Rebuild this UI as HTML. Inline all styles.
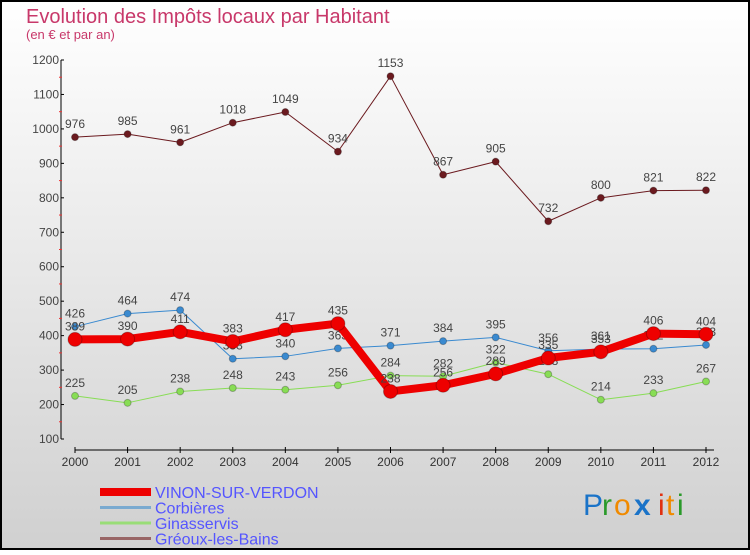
<!DOCTYPE html>
<html><head><meta charset="utf-8"><style>
html,body{margin:0;padding:0;}
body{width:750px;height:550px;overflow:hidden;font-family:"Liberation Sans",sans-serif;}
</style></head><body>
<svg id="chart" width="750" height="550" xmlns="http://www.w3.org/2000/svg">
<defs>
<linearGradient id="bg" x1="0" y1="0" x2="0" y2="1">
<stop offset="0" stop-color="#ffffff"/><stop offset="1" stop-color="#d0d0d0"/>
</linearGradient>
</defs>
<rect x="1" y="1" width="748" height="548" fill="url(#bg)" stroke="#000" stroke-width="2"/>
<text x="26" y="23" font-size="20" fill="#c8386a">Evolution des Impôts locaux par Habitant</text>
<text x="26" y="39" font-size="13" fill="#c8386a">(en € et par an)</text>
<g id="axes"></g>
<g id="series"></g>
<g id="legend"></g>
<g font-size="30" font-family="'Liberation Sans',sans-serif">
<text x="583" y="515" fill="#1a73c8">P</text><text x="602" y="515" fill="#2a9a2a">r</text><text x="614" y="515" fill="#f08a00">o</text><text x="634" y="515" fill="#1a73c8" font-weight="bold">x</text><text x="658" y="515" fill="#e03010">i</text><text x="666" y="515" fill="#f08a00">t</text><text x="677" y="515" fill="#2a9a2a">i</text>
</g>
</svg>
<script>
const years=["2000","2001","2002","2003","2004","2005","2006","2007","2008","2009","2010","2011","2012"];
const yTicks=[100,200,300,400,500,600,700,800,900,1000,1100,1200];
const vinon=[389,390,411,383,417,435,238,256,289,335,353,406,404];
const corbieres=[426,464,474,333,340,363,371,384,395,356,361,362,373];
const ginasservis=[225,205,238,248,243,256,284,282,322,288,214,233,267];
const greoux=[976,985,961,1018,1049,934,1153,867,905,732,800,821,822];
const NS="http://www.w3.org/2000/svg";
const x0=75,x1=706,yTop=60,yBot=439,vMin=100,vMax=1200;
function xs(i){return x0+(x1-x0)*i/(years.length-1);}
function ys(v){return yBot-(v-vMin)*(yBot-yTop)/(vMax-vMin);}
function mk(tag,attrs,parent){const e=document.createElementNS(NS,tag);for(const k in attrs)e.setAttribute(k,attrs[k]);parent.appendChild(e);return e;}
const axes=document.getElementById('axes');
let yl=mk('line',{x1:61,y1:ys(1200),x2:61,y2:ys(100),stroke:'#000','stroke-width':1},axes);


yTicks.forEach((t,i)=>{
  mk('line',{x1:61,y1:ys(t),x2:64,y2:ys(t),stroke:'#000'},axes);
  if(i<yTicks.length-1){mk('line',{x1:59,y1:ys(t+50),x2:62,y2:ys(t+50),stroke:'#e33'},axes);}
  const tx=mk('text',{x:59,y:ys(t)+4,'font-size':12,'text-anchor':'end',fill:'#444'},axes);
  
  
  tx.textContent=t;
});
let xl=mk('line',{x1:x0,y1:450,x2:x1+8,y2:450,stroke:'#000','stroke-width':1},axes);


years.forEach((y,i)=>{
  mk('line',{x1:xs(i),y1:447,x2:xs(i),y2:453,stroke:'#000'},axes);
  const tx=mk('text',{x:xs(i),y:466,'font-size':12,'text-anchor':'middle',fill:'#333'},axes);
  
  
  tx.textContent=y;
});
const sg=document.getElementById('series');
function drawSeries(vals,color,w,r,name){
  const g=mk('g',{},sg);
  
  
  const pts=vals.map((v,i)=>xs(i)+','+ys(v)).join(' ');
  mk('polyline',{points:pts,fill:'none',stroke:color,'stroke-width':w,'stroke-linejoin':'round'},g);
  vals.forEach((v,i)=>{
    const c=mk('circle',{cx:xs(i),cy:ys(v),r:r,fill:color,stroke:'rgba(0,0,0,0.25)','stroke-width':1},g);
    
    
    const t=mk('text',{x:xs(i),y:ys(v)-9,'font-size':12,'text-anchor':'middle',fill:'#444'},g);
    
    
    t.textContent=v;
  });
}
drawSeries(greoux,'#6b1a1f',1,3.5,'series-greoux');
drawSeries(ginasservis,'#88dd55',1,3.5,'series-ginasservis');
drawSeries(corbieres,'#3a8ad0',1,3.5,'series-corbieres');
drawSeries(vinon,'#ee0000',8,7,'series-vinon');
const lg=document.getElementById('legend');
const items=[["VINON-SUR-VERDON","#ee0000",8],["Corbières","#7aaad0",3],["Ginasservis","#99dd77",3],["Gréoux-les-Bains","#996666",3]];
items.forEach((it,i)=>{
  const y=492+i*15.5;
  const g=mk('g',{},lg);
  
  
  mk('line',{x1:100,y1:y,x2:151,y2:y,stroke:it[1],'stroke-width':it[2]},g);
  const t=mk('text',{x:155,y:y+6,'font-size':16,fill:'#5555ff'},g);
  t.textContent=it[0];
});
</script>
</body></html>
